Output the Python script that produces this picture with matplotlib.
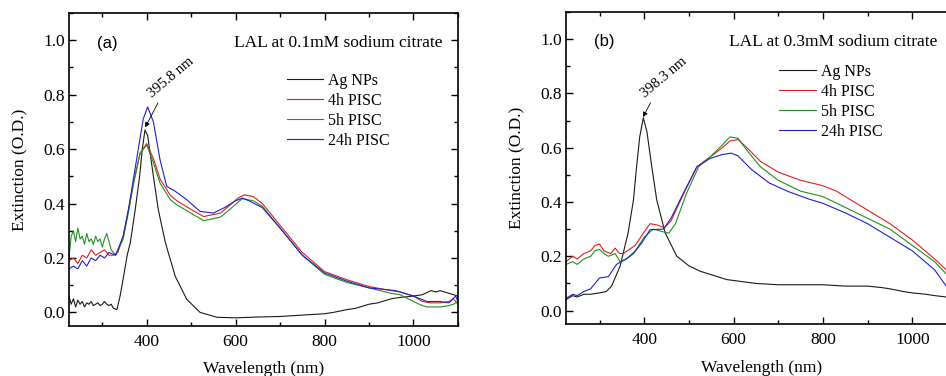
import numpy as np
import matplotlib
matplotlib.use('Agg')
import matplotlib.pyplot as plt
from matplotlib.ticker import MultipleLocator

plt.rcParams['font.family'] = 'Liberation Serif'
plt.rcParams['mathtext.fontset'] = 'stix'

labels = ['Ag NPs', '4h PISC', '5h PISC', '24h PISC']
colors = ['#1a1a1a', '#e02020', '#209020', '#2020d0']

# ---- panel (a): 0.1 mM sodium citrate ----
a_ag_x = [225, 230, 235, 240, 245, 250, 255, 260, 265, 270, 275, 280, 285, 290, 295, 300, 305, 310,
          315, 320, 325, 333, 340, 348, 356, 363, 374, 384, 390, 396, 402, 415, 426, 442, 464, 490,
          520, 558, 600, 650, 700, 750, 800, 820, 850, 870, 900, 920, 950, 970, 1000, 1020, 1040,
          1050, 1060, 1080, 1090, 1100]
a_ag_y = [0.06, 0.03, 0.05, 0.02, 0.045, 0.03, 0.04, 0.02, 0.035, 0.03, 0.04, 0.025, 0.03, 0.035,
          0.025, 0.03, 0.04, 0.03, 0.025, 0.03, 0.015, 0.01, 0.06, 0.133, 0.21, 0.256, 0.377, 0.5,
          0.6, 0.67, 0.65, 0.5, 0.377, 0.256, 0.133, 0.048, 0.0, -0.018, -0.02, -0.017, -0.015, -0.01,
          -0.005, 0.0, 0.01, 0.015, 0.03, 0.035, 0.05, 0.055, 0.06, 0.065, 0.08, 0.075, 0.08, 0.07,
          0.065, 0.06]

a_4h_x = [225, 235, 245, 255, 265, 275, 285, 295, 305, 315, 325, 335, 347, 359, 370, 385, 400, 415,
          430, 453, 468, 498, 528, 566, 588, 605, 620, 640, 660, 700, 750, 800, 850, 900, 950, 970,
          1000, 1020, 1040, 1060, 1080, 1090, 1100]
a_4h_y = [0.19, 0.2, 0.18, 0.21, 0.2, 0.23, 0.21, 0.22, 0.23, 0.21, 0.21, 0.22, 0.28, 0.377, 0.475,
          0.585, 0.62, 0.565, 0.49, 0.43, 0.41, 0.38, 0.352, 0.365, 0.395, 0.42, 0.432, 0.425, 0.4,
          0.32, 0.22, 0.15, 0.12, 0.095, 0.08, 0.075, 0.06, 0.04, 0.035, 0.035, 0.04, 0.05, 0.03]

a_5h_x = [225, 230, 235, 240, 245, 250, 255, 260, 265, 270, 275, 280, 285, 290, 295, 300, 305, 310,
          315, 320, 330, 347, 359, 370, 385, 400, 415, 430, 453, 468, 498, 528, 566, 588, 615, 640,
          660, 700, 750, 800, 850, 900, 950, 970, 1000, 1020, 1030, 1060, 1080, 1090, 1100]
a_5h_y = [0.2, 0.28, 0.3, 0.26, 0.31, 0.27, 0.28, 0.25, 0.29, 0.26, 0.27, 0.25, 0.28, 0.26, 0.27,
          0.24, 0.27, 0.29, 0.26, 0.23, 0.21, 0.27, 0.37, 0.47, 0.585, 0.615, 0.55, 0.475, 0.414,
          0.395, 0.366, 0.337, 0.35, 0.38, 0.418, 0.41, 0.39, 0.31, 0.21, 0.14, 0.11, 0.09, 0.07,
          0.065, 0.04, 0.025, 0.02, 0.02, 0.025, 0.03, 0.04]

a_24h_x = [225, 235, 245, 255, 265, 275, 285, 295, 305, 315, 330, 347, 359, 370, 385, 392, 402,
           415, 430, 445, 465, 490, 520, 550, 575, 600, 615, 630, 660, 700, 750, 800, 850, 900, 930,
           960, 1000, 1030, 1060, 1080, 1095, 1100]
a_24h_y = [0.16, 0.17, 0.16, 0.19, 0.17, 0.2, 0.19, 0.21, 0.2, 0.22, 0.21, 0.28, 0.38, 0.49, 0.64,
           0.71, 0.755, 0.7, 0.56, 0.463, 0.444, 0.414, 0.371, 0.365, 0.385, 0.41, 0.42, 0.41, 0.385,
           0.31, 0.21, 0.145, 0.115, 0.09, 0.085, 0.08, 0.06, 0.04, 0.04, 0.035, 0.06, 0.04]

# ---- panel (b): 0.3 mM sodium citrate ----
b_ag_x = [225, 240, 250, 265, 280, 300, 315, 327, 346, 364, 376, 383, 390, 398, 406, 417, 428, 447,
          473, 500, 525, 585, 650, 700, 750, 800, 850, 900, 930, 950, 980, 1000, 1030, 1050, 1076,
          1100]
b_ag_y = [0.04, 0.055, 0.05, 0.06, 0.06, 0.065, 0.07, 0.09, 0.163, 0.286, 0.408, 0.53, 0.64, 0.71,
          0.66, 0.53, 0.408, 0.286, 0.2, 0.165, 0.145, 0.114, 0.1, 0.095, 0.095, 0.095, 0.09, 0.09,
          0.085, 0.08, 0.07, 0.065, 0.06, 0.055, 0.05, 0.05]

b_4h_x = [225, 240, 250, 265, 280, 290, 300, 310, 325, 335, 345, 353, 380, 400, 413, 430, 445, 460,
          488, 518, 547, 575, 592, 610, 630, 660, 700, 750, 800, 830, 870, 900, 950, 1000, 1050,
          1076, 1100]
b_4h_y = [0.18, 0.2, 0.19, 0.21, 0.22, 0.24, 0.245, 0.22, 0.21, 0.23, 0.21, 0.21, 0.24, 0.29, 0.32,
          0.315, 0.305, 0.33, 0.43, 0.53, 0.565, 0.6, 0.625, 0.63, 0.6, 0.55, 0.51, 0.48, 0.46, 0.44,
          0.4, 0.37, 0.32, 0.26, 0.19, 0.15, 0.12]

b_5h_x = [225, 240, 250, 265, 280, 290, 300, 310, 320, 335, 346, 360, 380, 400, 420, 443, 455, 470,
          495, 522, 550, 575, 592, 610, 630, 660, 700, 750, 800, 850, 900, 950, 1000, 1050, 1076,
          1100]
b_5h_y = [0.17, 0.18, 0.17, 0.19, 0.2, 0.22, 0.225, 0.21, 0.2, 0.21, 0.18, 0.19, 0.22, 0.27, 0.3,
          0.29, 0.285, 0.32, 0.433, 0.53, 0.57, 0.61, 0.64, 0.635, 0.59, 0.53, 0.48, 0.44, 0.42, 0.38,
          0.34, 0.3, 0.24, 0.18, 0.135, 0.1]

b_24h_x = [225, 240, 250, 265, 280, 300, 320, 338, 360, 376, 395, 413, 443, 460, 488, 518, 547, 575,
           595, 610, 640, 680, 720, 770, 800, 850, 900, 950, 1000, 1050, 1076, 1100]
b_24h_y = [0.045, 0.06, 0.055, 0.07, 0.08, 0.12, 0.125, 0.17, 0.19, 0.21, 0.25, 0.298, 0.3, 0.34,
           0.433, 0.53, 0.56, 0.575, 0.58, 0.57, 0.52, 0.47, 0.44, 0.41, 0.395, 0.36, 0.32, 0.27,
           0.22, 0.15, 0.09, 0.05]

panels = [
    ('(a)', 'LAL at 0.1mM sodium citrate', '395.8 nm', (396.5, 0.68), (417, 0.78), 0.961, (0.56, 0.809),
     [(a_ag_x, a_ag_y), (a_4h_x, a_4h_y), (a_5h_x, a_5h_y), (a_24h_x, a_24h_y)]),
    ('(b)', 'LAL at 0.3mM sodium citrate', '398.3 nm', (397.5, 0.713), (406, 0.776), 0.951, (0.545, 0.834),
     [(b_ag_x, b_ag_y), (b_4h_x, b_4h_y), (b_5h_x, b_5h_y), (b_24h_x, b_24h_y)]),
]
positions = [[0.0729, 0.133, 0.4111, 0.8324], [0.5983, 0.138, 0.4133, 0.8300]]

fig = plt.figure(figsize=(9.46, 3.76), dpi=100)

for pos, (tag, title, peak, head, tail, title_x, leg_xy, series) in zip(positions, panels):
    ax = fig.add_axes(pos)
    for (x, y), lab, c in zip(series, labels, colors):
        ax.plot(x, y, color=c, lw=0.8, label=lab)
    ax.set_xlim(225, 1100)
    ax.set_ylim(-0.05, 1.1)
    ax.xaxis.set_major_locator(MultipleLocator(200))
    ax.xaxis.set_minor_locator(MultipleLocator(100))
    ax.yaxis.set_major_locator(MultipleLocator(0.2))
    ax.yaxis.set_minor_locator(MultipleLocator(0.1))
    ax.yaxis.set_major_formatter(plt.FormatStrFormatter('%.1f'))
    ax.tick_params(which='both', direction='in', top=True, right=True, labelsize=12.5)
    ax.tick_params(axis='x', which='major', pad=6)
    ax.tick_params(axis='y', which='major', pad=3)
    ax.tick_params(which='major', length=5, width=1)
    ax.tick_params(which='minor', length=3, width=1)
    for s in ax.spines.values():
        s.set_linewidth(1.2)
    ax.set_xlabel('Wavelength (nm)', fontsize=12.5, labelpad=8)
    ax.set_ylabel('Extinction (O.D.)', fontsize=12.5, labelpad=11)
    ax.text(0.072, 0.904, tag, transform=ax.transAxes, fontsize=12,
            family='Liberation Sans', va='center')
    ax.text(title_x, 0.904, title, transform=ax.transAxes,
            fontsize=12.5, ha='right', va='center')
    ax.annotate(peak, xy=head, xytext=tail, fontsize=10.5, rotation=40,
                ha='left', va='bottom', rotation_mode='anchor',
                arrowprops=dict(arrowstyle='-|>', color='black', lw=0.6,
                                mutation_scale=7, shrinkA=0, shrinkB=0))
    ax.legend(loc='upper left', bbox_to_anchor=leg_xy,
              frameon=False, fontsize=11.5, handlelength=2.3, handletextpad=0.3,
              labelspacing=0.25, borderaxespad=0, borderpad=0)

fig.savefig('out.png', dpi=100)
